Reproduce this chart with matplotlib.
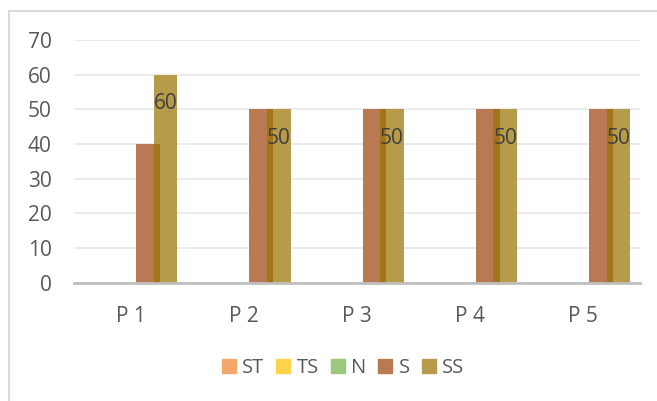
import matplotlib
matplotlib.use('Agg')
import matplotlib.pyplot as plt
import numpy as np
from matplotlib.lines import Line2D
from matplotlib.patches import Patch

plt.rcParams['font.family'] = ['Open Sans', 'DejaVu Sans']

categorias = ['P 1', 'P 2', 'P 3', 'P 4', 'P 5']
series = ['ST', 'TS', 'N', 'S', 'SS']
valores_st = [0, 0, 0, 0, 0]
valores_ts = [0, 0, 0, 0, 0]
valores_n = [0, 0, 0, 0, 0]
valores_s = [40, 50, 50, 50, 50]
valores_ss = [60, 50, 50, 50, 50]

cores = ['#F4A66F', '#FFD34A', '#9DC67E', '#B97A53', '#B69B4A']
cor_sobreposicao = '#A27519'
cor_texto = '#595959'

dados = [valores_st, valores_ts, valores_n, valores_s, valores_ss]

fig = plt.figure(figsize=(6.57, 4.01), dpi=100)
ax = fig.add_axes([74 / 657, 0.2955, 566 / 657, 0.9002 - 0.2955])

x = np.arange(len(categorias))
passo = 0.1546
largura = 0.21

for i, (nome, vals) in enumerate(zip(series, dados)):
    ax.bar(x + (i - 2) * passo, vals, largura, color=cores[i], label=nome,
           linewidth=0, zorder=3)

# faixa escura onde as barras S e SS se sobrepoem
esq = x + 2 * passo - largura / 2
dir_ = x + 1 * passo + largura / 2
alt = np.minimum(valores_s, valores_ss)
ax.bar((esq + dir_) / 2, alt, dir_ - esq, color=cor_sobreposicao, linewidth=0, zorder=4)

# rotulos so na serie SS
for xi, v in zip(x + 2 * passo, valores_ss):
    ax.annotate(str(v), (xi, v), xytext=(0, -21), textcoords='offset points',
                ha='center', va='center', fontsize=15, color='#404040', zorder=5)

ax.set_xlim(-0.5, 4.5)
ax.set_ylim(0, 70)
ax.set_yticks(range(0, 71, 10))
ax.set_xticks(x)
ax.set_xticklabels(categorias)
ax.grid(axis='y', color='#E9E9E9', linewidth=1.3, zorder=0)
ax.set_axisbelow(True)
for s in ['top', 'right', 'left']:
    ax.spines[s].set_visible(False)
ax.spines['bottom'].set_color('#BFBFBF')
ax.spines['bottom'].set_linewidth(2)
ax.spines['bottom'].set_zorder(6)
ax.tick_params(axis='both', length=0, labelsize=15, colors=cor_texto)
ax.tick_params(axis='y', pad=16)
ax.tick_params(axis='x', pad=17)

# borda do grafico (so esquerda e topo aparecem)
fig.add_artist(Line2D([8.5 / 657, 8.5 / 657], [0, 1 - 11 / 401], color='#D9D9D9', linewidth=1.5))
fig.add_artist(Line2D([8.5 / 657, 1], [1 - 11 / 401, 1 - 11 / 401], color='#D9D9D9', linewidth=1.5))

handles = [Patch(color=c, label=n) for c, n in zip(cores, series)]
leg = fig.legend(handles=handles, loc='center', bbox_to_anchor=(343 / 657, 1 - 368 / 401),
                 ncol=5, frameon=False, fontsize=14.5, handlelength=0.7, handleheight=0.7,
                 handletextpad=0.3, columnspacing=0.6)
for t in leg.get_texts():
    t.set_color(cor_texto)

fig.savefig('out.png', dpi=100)
